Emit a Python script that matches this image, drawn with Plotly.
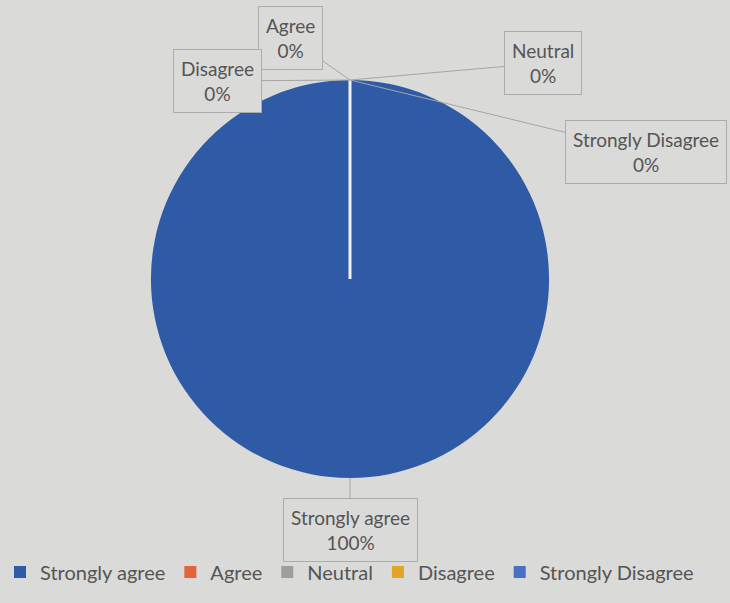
import plotly.graph_objects as go

# Survey responses (share of respondents)
categories = ["Strongly agree", "Agree", "Neutral", "Disagree", "Strongly Disagree"]
values = [100, 0, 0, 0, 0]
colors = ["#2f5aa6", "#e2643a", "#9e9e9e", "#e0a526", "#4a6fc4"]

BG = "#dadad8"
TXT = "#555555"
FONT = "Lato"

W, H = 730, 603
cx_px, cy_px, r_px = 350, 279, 199

total = sum(values)
pcts = [round(v / total * 100) for v in values]

fig = go.Figure(go.Pie(
    labels=categories,
    values=values,
    marker=dict(colors=colors, line=dict(width=0)),
    sort=False,
    direction="clockwise",
    rotation=0,
    textinfo="none",
    hoverinfo="label+percent",
    domain=dict(x=[(cx_px - r_px) / W, (cx_px + r_px) / W],
                y=[(H - cy_px - r_px) / H, (H - cy_px + r_px) / H]),
))

# slice seam from the centre to 12 o'clock
fig.add_shape(type="line", xref="paper", yref="paper",
              x0=cx_px / W, y0=(H - cy_px) / H,
              x1=cx_px / W, y1=(H - cy_px + r_px) / H,
              line=dict(color="#f0f0f0", width=3))

# data labels with leader lines; box centres given as pixel offsets from the anchor point
top = (cx_px / W, (H - cy_px + r_px) / H)
bottom = (cx_px / W, (H - cy_px - r_px) / H)
label_layout = {
    "Strongly agree": (bottom, 0, 52),
    "Agree": (top, -60, -42),
    "Neutral": (top, 193, -17),
    "Disagree": (top, -133, 1),
    "Strongly Disagree": (top, 296, 72),
}
for name, pct in zip(categories, pcts):
    (ax_, ay_), dx, dy = label_layout[name]
    fig.add_annotation(
        x=ax_, y=ay_, xref="paper", yref="paper",
        text=f"{name}<br>{pct}%",
        showarrow=True, arrowhead=0, arrowwidth=1, arrowcolor="#a5a5a5",
        ax=dx, ay=dy,
        font=dict(family=FONT, size=19, color=TXT),
        bordercolor="#acacac", borderwidth=1, borderpad=7,
        bgcolor=BG, align="center",
    )

fig.update_layout(
    width=W, height=H,
    margin=dict(l=0, r=0, t=0, b=0),
    paper_bgcolor=BG, plot_bgcolor=BG,
    showlegend=True,
    legend=dict(orientation="h", x=0.0, xanchor="left", y=(H - 572) / H, yanchor="middle",
                font=dict(family=FONT, size=20, color=TXT),
                bgcolor="rgba(0,0,0,0)", itemwidth=30, tracegroupgap=0),
    font=dict(family=FONT, color=TXT),
)

fig.write_html("out.html")
